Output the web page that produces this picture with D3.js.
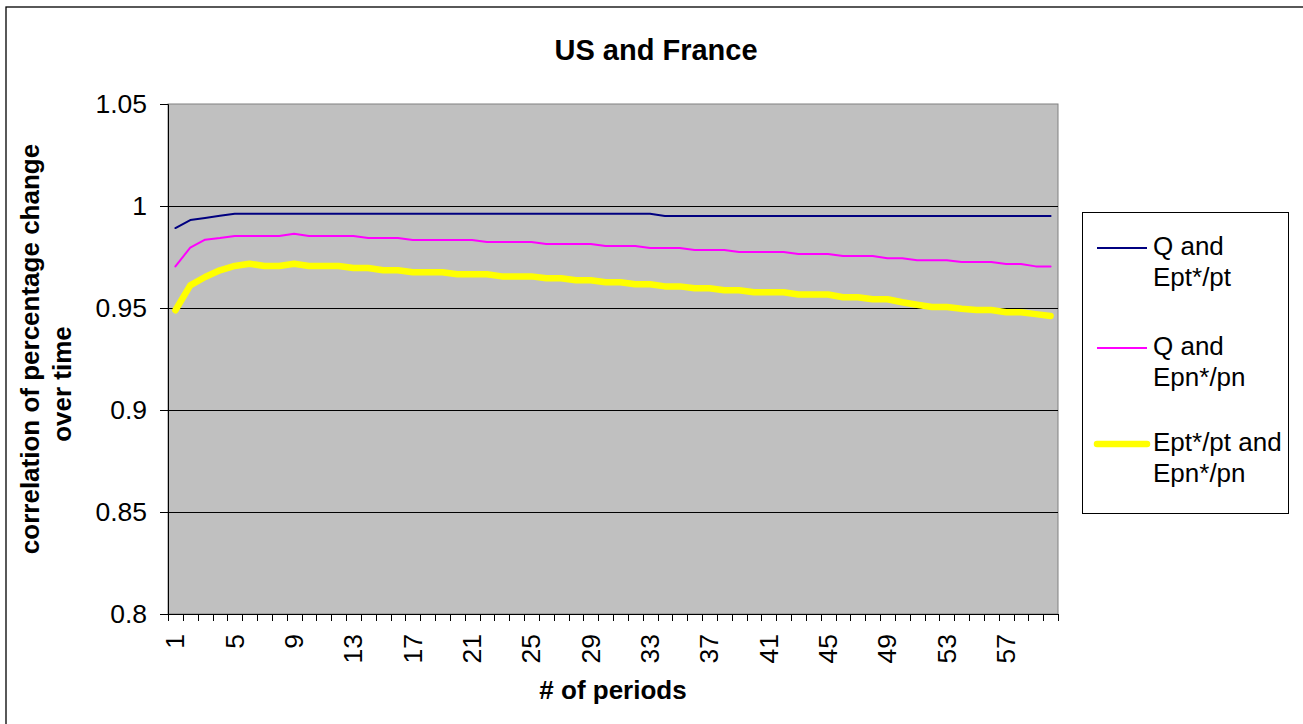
<!DOCTYPE html>
<html>
<head>
<meta charset="utf-8">
<script src="https://cdn.jsdelivr.net/npm/d3@7"></script>
<style>
  html, body { margin: 0; padding: 0; background: #fff; }
  svg { display: block; font-family: "Liberation Sans", Arial, sans-serif; }
</style>
</head>
<body>
<svg id="chart" width="1303" height="724"></svg>
<script>
const title = "US and France";
const xTitle = "# of periods";
const yTitleLines = ["correlation of percentage change", "over time"];
const periods = d3.range(1, 61);
const xTickLabels = [1, 5, 9, 13, 17, 21, 25, 29, 33, 37, 41, 45, 49, 53, 57];
const yTicks = [0.8, 0.85, 0.9, 0.95, 1, 1.05];
const yTickLabels = ["0.8", "0.85", "0.9", "0.95", "1", "1.05"];
const seriesNames = [["Q and", "Ept*/pt"], ["Q and", "Epn*/pn"], ["Ept*/pt and", "Epn*/pn"]];

const qEpt = [0.9892, 0.9931, 0.9941, 0.9952,
  0.9962, 0.9962, 0.9962, 0.9962, 0.9962, 0.9962, 0.9962, 0.9962, 0.9962, 0.9962,
  0.9962, 0.9962, 0.9962, 0.9962, 0.9962, 0.9962, 0.9962, 0.9962, 0.9962, 0.9962,
  0.9962, 0.9962, 0.9962, 0.9962, 0.9962, 0.9962, 0.9962, 0.9962, 0.9962,
  0.9951, 0.9951, 0.9951, 0.9951, 0.9951, 0.9951, 0.9951, 0.9951, 0.9951, 0.9951,
  0.9951, 0.9951, 0.9951, 0.9951, 0.9951, 0.9951, 0.9951, 0.9951, 0.9951, 0.9951,
  0.9951, 0.9951, 0.9951, 0.9951, 0.9951, 0.9951, 0.9951];

const qEpn = [0.9704, 0.9796, 0.9835, 0.9843,
  0.9853, 0.9853, 0.9853, 0.9853, 0.9864, 0.9853, 0.9853, 0.9853, 0.9853,
  0.9843, 0.9843, 0.9843, 0.9833, 0.9833, 0.9833, 0.9833, 0.9833,
  0.9823, 0.9823, 0.9823, 0.9823, 0.9814, 0.9814, 0.9814, 0.9814,
  0.9804, 0.9804, 0.9804, 0.9794, 0.9794, 0.9794, 0.9784, 0.9784, 0.9784,
  0.9775, 0.9775, 0.9775, 0.9775, 0.9765, 0.9765, 0.9765, 0.9755, 0.9755, 0.9755,
  0.9744, 0.9744, 0.9734, 0.9734, 0.9734, 0.9725, 0.9725, 0.9725,
  0.9716, 0.9716, 0.9704, 0.9704];

const eptEpn = [0.9489, 0.9611, 0.9652, 0.9685, 0.9706, 0.9717, 0.9706, 0.9706,
  0.9717, 0.9706, 0.9706, 0.9706, 0.9696, 0.9696, 0.9685, 0.9685,
  0.9675, 0.9675, 0.9675, 0.9665, 0.9665, 0.9665, 0.9655, 0.9655, 0.9655,
  0.9646, 0.9646, 0.9636, 0.9636, 0.9626, 0.9626, 0.9616, 0.9616,
  0.9606, 0.9606, 0.9597, 0.9597, 0.9587, 0.9587, 0.9577, 0.9577, 0.9577,
  0.9566, 0.9566, 0.9566, 0.9553, 0.9553, 0.9543, 0.9543, 0.9528, 0.9516,
  0.9505, 0.9505, 0.9496, 0.9490, 0.9490, 0.9479, 0.9479, 0.9470, 0.9461];

const svg = d3.select("#chart");
const pLeft = 168, pRight = 1058, pTop = 104, pBottom = 614;

const x = d3.scaleBand().domain(periods).range([pLeft, pRight]).padding(0);
const y = d3.scaleLinear().domain([0.8, 1.05]).range([pBottom, pTop]);
const cx = d => x(d) + x.bandwidth() / 2;

// outer chart border
svg.append("rect").attr("x", 6).attr("y", 7).attr("width", 1400).attr("height", 800)
  .attr("fill", "#fff").attr("stroke", "#000").attr("stroke-width", 1.3);

// plot area
svg.append("rect").attr("x", pLeft).attr("y", pTop).attr("width", pRight - pLeft).attr("height", pBottom - pTop)
  .attr("fill", "#c0c0c0").attr("stroke", "#808080").attr("stroke-width", 1);

// gridlines
svg.append("g").selectAll("line").data(yTicks.filter(v => v > 0.8 && v < 1.05)).join("line")
  .attr("x1", pLeft).attr("x2", pRight)
  .attr("y1", d => Math.round(y(d)) + 0.5).attr("y2", d => Math.round(y(d)) + 0.5)
  .attr("stroke", "#000").attr("stroke-width", 1);

// y axis
const yAxis = d3.axisLeft(y).tickValues(yTicks).tickSize(8).tickPadding(13)
  .tickFormat((d, i) => yTickLabels[i]);
const gy = svg.append("g").attr("transform", `translate(${pLeft},0)`).call(yAxis);
gy.select(".domain").attr("stroke", "#000");
gy.selectAll(".tick line").attr("stroke", "#000");
gy.selectAll("text").attr("font-size", 26.5).attr("fill", "#000")
  .attr("font-family", "'Liberation Sans', Arial, sans-serif");

// x axis baseline
svg.append("line").attr("x1", pLeft).attr("x2", pRight).attr("y1", pBottom + 0.5).attr("y2", pBottom + 0.5)
  .attr("stroke", "#000").attr("stroke-width", 1);
// x boundary ticks
const boundaries = periods.map(p => x(p)).concat([pRight]);
svg.append("g").selectAll("line").data(boundaries).join("line")
  .attr("x1", d => Math.round(d) + 0.5).attr("x2", d => Math.round(d) + 0.5)
  .attr("y1", pBottom).attr("y2", pBottom + 7)
  .attr("stroke", "#000").attr("stroke-width", 1);
// x labels
svg.append("g").selectAll("text").data(xTickLabels).join("text")
  .attr("transform", d => `translate(${cx(d)},634) rotate(-90)`)
  .attr("text-anchor", "end").attr("dominant-baseline", "central")
  .attr("font-size", 26.5).attr("fill", "#000")
  .text(d => d);

// lines
const lineGen = data => d3.line().x((d, i) => cx(periods[i])).y(d => y(d))(data);
const series = [
  { data: qEpt, color: "#000080", width: 2 },
  { data: qEpn, color: "#ff00ff", width: 2 },
  { data: eptEpn, color: "#ffff00", width: 6.5 }
];
svg.append("g").selectAll("path").data(series).join("path")
  .attr("d", s => lineGen(s.data))
  .attr("fill", "none").attr("stroke", s => s.color).attr("stroke-width", s => s.width)
  .attr("stroke-linejoin", "round").attr("stroke-linecap", "round");

// titles
svg.append("text").attr("x", 656).attr("y", 60).attr("text-anchor", "middle")
  .attr("font-size", 29).attr("font-weight", "bold").text(title);
svg.append("text").attr("x", (pLeft + pRight) / 2).attr("y", 699).attr("text-anchor", "middle")
  .attr("font-size", 26).attr("font-weight", "bold").text(xTitle);
svg.append("text").attr("transform", "translate(39,349) rotate(-90)").attr("text-anchor", "middle")
  .attr("font-size", 26).attr("font-weight", "bold").text(yTitleLines[0]);
svg.append("text").attr("transform", "translate(71,384) rotate(-90)").attr("text-anchor", "middle")
  .attr("font-size", 26).attr("font-weight", "bold").text(yTitleLines[1]);

// legend
const lg = svg.append("g");
lg.append("rect").attr("x", 1082.5).attr("y", 212.5).attr("width", 206).attr("height", 301)
  .attr("fill", "#fff").attr("stroke", "#000").attr("stroke-width", 1);
const legendY = [248, 348, 444];
series.forEach((s, i) => {
  lg.append("line").attr("x1", 1097).attr("x2", 1147).attr("y1", legendY[i]).attr("y2", legendY[i])
    .attr("stroke", s.color).attr("stroke-width", s.width).attr("stroke-linecap", i === 2 ? "round" : "butt");
  seriesNames[i].forEach((t, j) => {
    lg.append("text").attr("x", 1153).attr("y", legendY[i] + 6.5 + j * 31)
      .attr("font-size", 26).attr("fill", "#000").text(t);
  });
});
</script>
</body>
</html>
